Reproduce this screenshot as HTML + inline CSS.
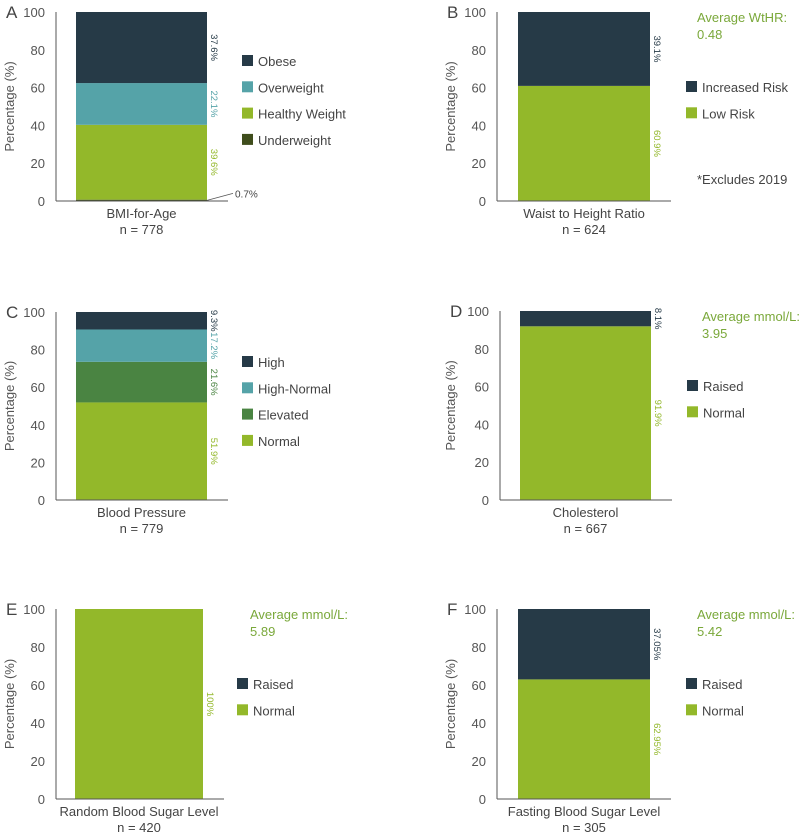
<!DOCTYPE html>
<html><head><meta charset="utf-8"><style>
html,body{margin:0;padding:0;background:#fff;}
svg{display:block;font-family:"Liberation Sans",sans-serif;}
</style></head><body>
<svg id="c" width="800" height="835" viewBox="0 0 800 835"></svg>
<script>
// ---- data ----
const panelIds = ["A","B","C","D","E","F"];
const categories = ["BMI-for-Age","Waist to Height Ratio","Blood Pressure","Cholesterol","Random Blood Sugar Level","Fasting Blood Sugar Level"];
const sampleSizes = ["n = 778","n = 624","n = 779","n = 667","n = 420","n = 305"];
const seriesA = ["Underweight","Healthy Weight","Overweight","Obese"];
const valuesA = [0.7,39.6,22.1,37.6];
const labelsA = ["0.7%","39.6%","22.1%","37.6%"];
const seriesB = ["Low Risk","Increased Risk"];
const valuesB = [60.9,39.1];
const labelsB = ["60.9%","39.1%"];
const seriesC = ["Normal","Elevated","High-Normal","High"];
const valuesC = [51.9,21.6,17.2,9.3];
const labelsC = ["51.9%","21.6%","17.2%","9.3%"];
const seriesD = ["Normal","Raised"];
const valuesD = [91.9,8.1];
const labelsD = ["91.9%","8.1%"];
const seriesE = ["Normal","Raised"];
const valuesE = [100,0];
const labelsE = ["100%",""];
const seriesF = ["Normal","Raised"];
const valuesF = [62.95,37.05];
const labelsF = ["62.95%","37.05%"];
const yTicks = [0,20,40,60,80,100];
const notes = [[], ["Average WtHR:","0.48"], [], ["Average mmol/L:","3.95"], ["Average mmol/L:","5.89"], ["Average mmol/L:","5.42"]];

const colorMap = {"Obese":"#263a47","Overweight":"#55a3a8","Healthy Weight":"#93b82a","Underweight":"#3f4d1c",
 "Increased Risk":"#263a47","Low Risk":"#93b82a","High":"#263a47","High-Normal":"#55a3a8","Elevated":"#4a8442",
 "Normal":"#93b82a","Raised":"#263a47"};

const allSeries=[seriesA,seriesB,seriesC,seriesD,seriesE,seriesF];
const allValues=[valuesA,valuesB,valuesC,valuesD,valuesE,valuesF];
const allLabels=[labelsA,labelsB,labelsC,labelsD,labelsE,labelsF];

const layout=[
 {ax:56,bx:76,bw:131,top:12,bot:201,lx:242,ly:61,ttl:10,nx:697},
 {ax:497,bx:518,bw:132,top:12,bot:201,lx:686,ly:87,ttl:451,nx:697},
 {ax:56,bx:76,bw:131,top:312,bot:500,lx:242,ly:362,ttl:10,nx:697},
 {ax:500,bx:520,bw:131,top:311,bot:500,lx:687,ly:386,ttl:451,nx:702},
 {ax:56,bx:75,bw:128,top:609,bot:799,lx:237,ly:684,ttl:10,nx:250},
 {ax:497,bx:518,bw:132,top:609,bot:799,lx:686,ly:684,ttl:451,nx:697}
];
const NS="http://www.w3.org/2000/svg";
const svg=document.getElementById('c');
function mk(tag,attrs,parent,text){const e=document.createElementNS(NS,tag);for(const k in attrs)e.setAttribute(k,attrs[k]);if(text!==undefined)e.textContent=text;(parent||svg).appendChild(e);return e;}

panelIds.forEach((pid,i)=>{
 const L=layout[i];
 const g=mk('g',{});
 
 
 const y=v=>L.bot-(v/100)*(L.bot-L.top);
 const letter=mk('text',{x:L.ax-50,y:L.top+6,'font-size':17,fill:'#444'},g,pid);
 
 
 yTicks.forEach(t=>{
  const tl=mk('text',{x:L.ax-11,y:y(t)+5,'font-size':13,fill:'#555','text-anchor':'end'},g,String(t));
  
  
 });
 const yt=mk('text',{x:0,y:0,'font-size':13,fill:'#555','text-anchor':'middle',transform:`translate(${L.ttl+4},${(L.top+L.bot)/2}) rotate(-90)`},g,'Percentage (%)');
 
 
 const ser=allSeries[i],vals=allValues[i],labs=allLabels[i];
 let cum=0;
 ser.forEach((s,k)=>{
  const v=vals[k];const col=colorMap[s];
  if(v>0){
   const r=mk('rect',{x:L.bx,y:y(cum+v),width:L.bw,height:y(cum)-y(cum+v),fill:col},g);
   
   
  }
  if(labs[k]){
   let lt;
   if(v<3){
    mk('line',{x1:L.bx+L.bw,y1:y(cum+v/2),x2:L.bx+L.bw+26,y2:y(cum+v/2)-7,stroke:'#555','stroke-width':0.8},g);
    lt=mk('text',{x:L.bx+L.bw+28,y:y(cum+v/2)-3,'font-size':10,fill:'#444'},g,labs[k]);
   } else {
    const cy=y(cum+v/2);const cx=L.bx+L.bw+7;
    lt=mk('text',{x:0,y:0,'font-size':9.5,fill:col,'text-anchor':'middle',transform:`translate(${cx-3},${cy}) rotate(90)`},g,labs[k]);
   }
   
   
  }
  cum+=v;
 });
 const axl=mk('line',{x1:L.ax,y1:L.top,x2:L.ax,y2:L.bot,stroke:'#555','stroke-width':1},g);
 
 
 const bl=mk('line',{x1:L.ax,y1:L.bot,x2:L.bx+L.bw+21,y2:L.bot,stroke:'#555','stroke-width':1},g);
 
 
 const cx=L.bx+L.bw/2;
 const cl=mk('text',{x:cx,y:L.bot+17,'font-size':13,fill:'#444','text-anchor':'middle'},g,categories[i]);
 
 
 const nl=mk('text',{x:cx,y:L.bot+33,'font-size':13,fill:'#444','text-anchor':'middle'},g,sampleSizes[i]);
 
 
 const leg=ser.slice().reverse();
 leg.forEach((s,k)=>{
  const ly=L.ly+k*26.3;
  const sq=mk('rect',{x:L.lx,y:ly-6,width:11,height:11,fill:colorMap[s]},g);
  
  
  const t=mk('text',{x:L.lx+16,y:ly+5,'font-size':13,fill:'#444'},g,s);
  
  
 });
 notes[i].forEach((n,k)=>{
  const t=mk('text',{x:L.nx,y:L.top+10+k*17,'font-size':13,fill:'#7aa83a'},g,n);
  
  
 });
 if(pid==="B"){
  const t=mk('text',{x:697,y:184,'font-size':13,fill:'#444'},g,'*Excludes 2019');
  
  
 }
});
</script>
</body></html>
